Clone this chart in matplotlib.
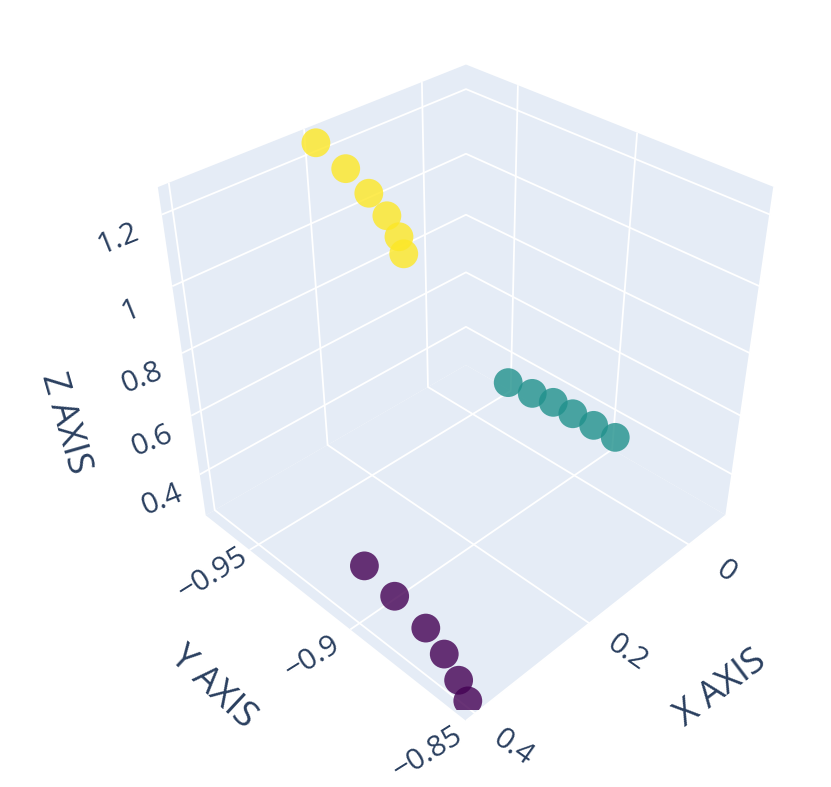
import numpy as np
import matplotlib
matplotlib.use('Agg')
import matplotlib.pyplot as plt
from matplotlib.ticker import NullFormatter
from mpl_toolkits.mplot3d import proj3d

# values, one cluster per colour
x_purple = [0.40, 0.40, 0.40, 0.40, 0.40, 0.40]
y_purple = [-0.896, -0.883, -0.870, -0.8625, -0.8567, -0.853]
z_purple = [0.473, 0.446, 0.417, 0.376, 0.324, 0.277]

x_teal = [-0.05, -0.05, -0.05, -0.05, -0.05, -0.05]
y_teal = [-0.944, -0.932, -0.9218, -0.9125, -0.9028, -0.893]
z_teal = [0.344, 0.355, 0.366, 0.365, 0.366, 0.367]

x_yellow = [0.20, 0.20, 0.20, 0.20, 0.20, 0.20]
y_yellow = [-0.9686, -0.955, -0.9448, -0.937, -0.9319, -0.930]
z_yellow = [1.250, 1.218, 1.181, 1.143, 1.101, 1.059]

x_ticks = [0, 0.2, 0.4]
x_ticklabels = ['0', '0.2', '0.4']
y_ticks = [-0.95, -0.9, -0.85]
y_ticklabels = ['\u22120.95', '\u22120.9', '\u22120.85']
z_ticks = [0.4, 0.6, 0.8, 1.0, 1.2]
z_ticklabels = ['0.4', '0.6', '0.8', '1', '1.2']

xmin, xmax = -0.082, 0.415
ymin, ymax = -0.974, -0.85
zmin, zmax = 0.253, 1.273

plt.rcParams['font.family'] = ['Open Sans', 'DejaVu Sans']
plt.rcParams['grid.color'] = 'white'
plt.rcParams['grid.linewidth'] = 1.3

text_col = '#2a3f5f'
pane_col = '#E5ECF6'

fig = plt.figure(figsize=(8.31, 7.87), dpi=100)
ax = fig.add_axes([121.4 / 831, 77.4 / 787, 671 / 831, 671 / 787], projection='3d')
ax.set_proj_type('persp', focal_length=0.377)
ax.view_init(elev=35.26, azim=45)
ax.set_box_aspect((1, 1, 1))
ax.patch.set_alpha(0)

for axis in [ax.xaxis, ax.yaxis, ax.zaxis]:
    axis.set_pane_color(pane_col)
    axis.pane.set_edgecolor('none')
    axis.line.set_color('none')
    axis.set_major_formatter(NullFormatter())
ax.tick_params(color='none', length=0)

xs = np.array(x_purple + x_teal + x_yellow)
ys = np.array(y_purple + y_teal + y_yellow)
zs = np.array(z_purple + z_teal + z_yellow)
labels = [0] * 6 + [1] * 6 + [2] * 6
ax.scatter(xs, ys, zs, c=labels, cmap='viridis', s=430, alpha=0.8, linewidths=0, depthshade=False)

ax.set_xticks(x_ticks)
ax.set_yticks(y_ticks)
ax.set_zticks(z_ticks)
ax.set_xlim(xmin, xmax)
ax.set_ylim(ymin, ymax)
ax.set_zlim(zmin, zmax)


# Text3D ignores rotation, so project the anchor and draw it as 2D text
def label3d(x, y, z, s, rot, size):
    xp, yp, _ = proj3d.proj_transform(x, y, z, ax.get_proj())
    ax.text2D(xp, yp, s, transform=ax.transData, rotation=rot, rotation_mode='anchor',
              ha='center', va='center', fontsize=size, color=text_col)


tick_fs = 21.5
title_fs = 26
for t, s in zip(x_ticks, x_ticklabels):
    label3d(t, ymax + 0.015, zmin - 0.015, s, -35, tick_fs)
for t, s in zip(y_ticks, y_ticklabels):
    label3d(xmax + 0.06, t, zmin - 0.008, s, 32, tick_fs)
for t, s in zip(z_ticks, z_ticklabels):
    label3d(xmax + 0.06, ymin, t - 0.016, s, 22, tick_fs)

label3d(0.17, ymax + 0.044, zmin, 'X AXIS', 37, title_fs)
label3d(xmax + 0.174, -0.911, zmin, 'Y AXIS', -43, title_fs)
label3d(xmax + 0.169, ymin, 0.763, 'Z AXIS', -74, title_fs)

plt.savefig('out.png', dpi=100)
